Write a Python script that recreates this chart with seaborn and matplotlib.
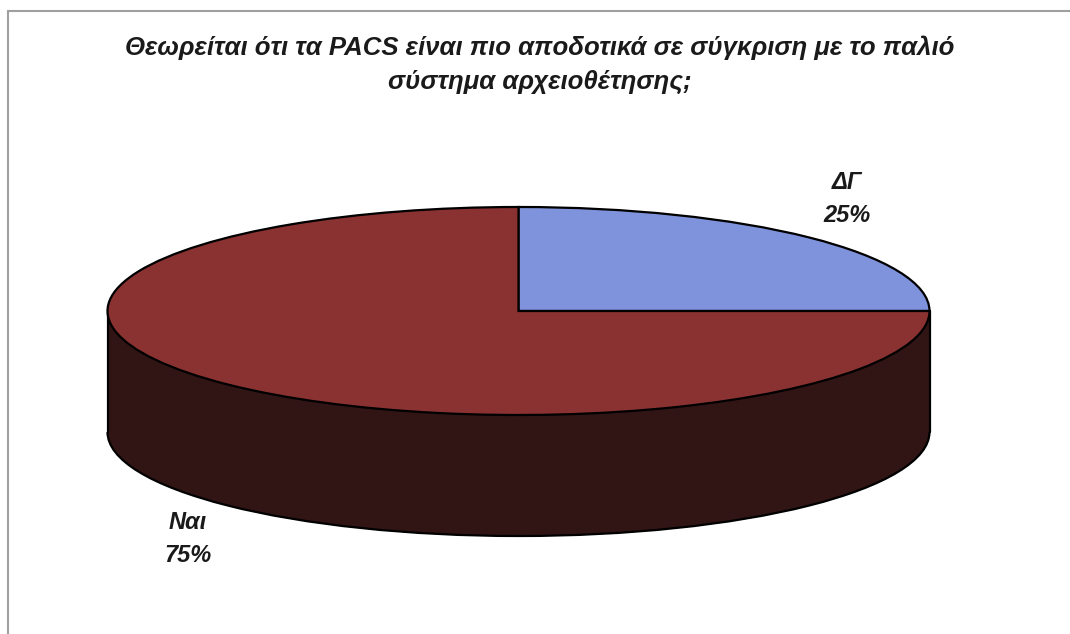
import matplotlib
matplotlib.use("Agg")
import matplotlib.pyplot as plt
import seaborn as sns
from matplotlib.patches import Rectangle, Arc
from matplotlib.lines import Line2D

sns.set_style("white")
plt.rcParams["font.family"] = ["Liberation Sans", "DejaVu Sans"]

# Survey answers
labels = ["ΔΓ", "Ναι"]
values = [25, 75]
top_colors = ["#7f93dc", "#8a3232"]
side_colors = ["#2a1836", "#311414"]
title = "Θεωρείται ότι τα PACS είναι πιο αποδοτικά σε σύγκριση με το παλιό\nσύστημα αρχειοθέτησης;"

W, H = 1070, 634
fig = plt.figure(figsize=(W / 100, H / 100), dpi=100)
fig.patch.set_facecolor("white")

# Axes in ellipse units: x scaled by the horizontal radius, y by the vertical one
cx, cy, rx, ry = 518.5, 311.0, 411.0, 104.0
depth = 121.0 / ry
ax = fig.add_axes([0, 0, 1, 1])

# Bottom face of the disc (outline drawn separately so no radial seams show)
ax.pie(values, colors=side_colors, startangle=90, counterclock=False,
       center=(0, -depth), radius=1.0,
       wedgeprops=dict(edgecolor=side_colors[1], linewidth=0.5), frame=True)
# Side wall between the two faces
ax.add_patch(Rectangle((-1, -depth), 2, depth, facecolor=side_colors[1],
                       edgecolor="none", zorder=1.5))
ax.add_patch(Arc((0, -depth), 2, 2, theta1=180, theta2=360,
                 color="black", lw=1.6, zorder=1.6))
ax.add_line(Line2D([-1, -1], [-depth, 0], color="black", lw=1.6, zorder=1.6))
ax.add_line(Line2D([1, 1], [-depth, 0], color="black", lw=1.6, zorder=1.6))
# Top face
wedges, _ = ax.pie(values, colors=top_colors, startangle=90, counterclock=False,
                   center=(0, 0), radius=1.0,
                   wedgeprops=dict(edgecolor="black", linewidth=1.6), frame=True)
for w in wedges:
    w.set_zorder(2)

# Stretch the circle into the tilted ellipse
ax.set_aspect("auto")
ax.set_xlim(-cx / rx, (W - cx) / rx)
ax.set_ylim((cy - H) / ry, cy / ry)
ax.axis("off")

# Data labels
def px(x, y):
    return ((x - cx) / rx, (cy - y) / ry)

lab_pos = [(847, 199), (188, 539)]
for lab, val, (x, y) in zip(labels, values, lab_pos):
    ax.text(*px(x, y), f"{lab}\n{val}%", ha="center", va="center",
            fontsize=17, fontweight="bold", fontstyle="italic",
            color="#1a1a1a", linespacing=1.55, zorder=5)

# Title
fig.text(540 / W, 1 - 65 / H, title, ha="center", va="center",
         fontsize=18.5, fontweight="bold", fontstyle="italic",
         color="#1a1a1a", linespacing=1.5)

# Frame lines along top and left
fig.add_artist(Line2D([8 / W, 1], [1 - 11 / H] * 2, color="#a0a0a0", lw=1.5))
fig.add_artist(Line2D([8 / W] * 2, [0, 1 - 11 / H], color="#a0a0a0", lw=1.5))

fig.savefig("out.png", dpi=100, facecolor="white")
